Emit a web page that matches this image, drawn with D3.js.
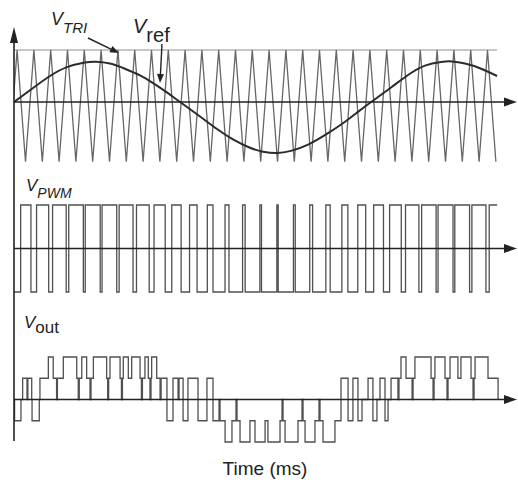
<!DOCTYPE html>
<html>
<head>
<meta charset="utf-8">
<script src="https://cdn.jsdelivr.net/npm/d3@7"></script>
<style>
  body { margin: 0; background: #fff; }
  svg { display: block; }
</style>
</head>
<body>
<svg id="chart" width="518" height="480"></svg>
<script>
// ---- data (time in ms, one carrier period = 1 ms) ----
// triangular carrier: times of its peaks and troughs, and its two levels
const carrierPeakT   = [1,2,3,4,5,6,7,8,9,10,11,12,13,14,15,16,17,18,19,20,21,22,23,24,25,26,27,28,29];
const carrierTroughT = [0.5,1.5,2.5,3.5,4.5,5.5,6.5,7.5,8.5,9.5,10.5,11.5,12.5,13.5,14.5,15.5,16.5,17.5,18.5,19.5,20.5,21.5,22.5,23.5,24.5,25.5,26.5,27.5,28.5,29.5];
const carrierTop = 1.0;
const carrierBottom = -1.15;

// reference (modulating) wave
const refT = [0.82,1.95,2.96,3.97,5.04,5.70,6.53,7.42,8.32,9.21,9.98,10.70,11.89,12.90,13.85,14.86,15.64,16.47,17.30,18.32,19.51,20.52,21.29,22.07,23.26,24.27,25.28,26.23,26.89,27.66,28.55,29.57];
const refV = [0,0.27,0.50,0.67,0.76,0.775,0.74,0.64,0.51,0.34,0.17,0,-0.28,-0.52,-0.72,-0.88,-0.955,-0.98,-0.94,-0.82,-0.60,-0.38,-0.19,0,0.28,0.52,0.70,0.77,0.78,0.74,0.65,0.50];

// output voltage: switching instants and the level held after each one
const voutT = [0.82,0.85,1.23,1.33,1.59,1.64,1.87,1.89,2.32,2.36,
  2.86,3.15,3.35,3.40,3.75,4.55,4.64,4.70,4.85,5.14,
  5.34,5.40,5.54,6.33,6.39,6.45,6.53,7.13,7.21,7.27,
  7.32,7.62,7.82,8.32,8.40,8.46,8.61,8.81,8.91,8.97,
  9.01,9.31,9.51,9.57,9.92,10.28,10.58,10.64,10.88,11.17,
  11.77,12.30,12.66,13.02,13.08,13.38,13.79,14.03,14.09,14.27,
  14.86,15.16,15.76,15.93,16.65,16.77,16.83,16.95,17.72,17.96,
  18.02,18.14,18.73,18.97,19.03,19.21,19.92,20.28,20.70,20.99,
  21.29,21.53,21.89,22.18,22.42,22.60,22.90,23.08,23.26,23.67,
  23.73,23.85,24.15,24.51,24.57,24.68,25.64,25.76,25.82,25.87,
  26.47,26.59,26.65,26.77,27.24,27.42,28.02,28.14,28.20,28.26,
  29.03,29.63];
const voutLevel = [0,-1,0,1,0,1,0,-1,0,1,
  2,1,0,1,2,1,0,1,2,1,
  0,1,2,1,0,1,2,1,0,1,
  2,1,2,1,0,1,2,1,0,1,
  2,1,0,1,-1,1,0,1,-1,1,
  -1,1,-1,0,-1,-2,-1,0,-1,-2,
  -1,-2,-1,-2,-1,0,-1,-2,-1,0,
  -1,-2,-1,0,-1,-2,-1,1,-1,1,
  -1,0,1,-1,0,1,-1,0,1,0,
  1,2,1,0,1,2,1,0,1,2,
  1,0,1,2,1,2,1,0,1,2,
  1,0];

const tStart = 0.82, tEnd = 29.57;

// ---- layout ----
const svg = d3.select("#chart");
const axisX = 14, arrowEnd = 517, lineEnd = 497;

const x = d3.scaleLinear().domain([0, 30]).range([0.3, 504.3]);
const yTri = d3.scaleLinear().domain([-1, 1]).range([154, 50]);
const yPwm = d3.scaleLinear().domain([-1, 1]).range([292, 205]);
const yOut = d3.scaleLinear().domain([-2, 2]).range([442, 357]);

svg.append("defs").append("clipPath").attr("id", "plot")
  .append("rect").attr("x", axisX).attr("y", 0).attr("width", 518 - axisX).attr("height", 480);

const ink = "#222";

// ---- top panel: carrier and reference ----
svg.append("line")
  .attr("x1", axisX).attr("x2", lineEnd)
  .attr("y1", yTri(carrierTop)).attr("y2", yTri(carrierTop))
  .attr("stroke", "#b4b4b4").attr("stroke-width", 1.3);

const carrier = carrierPeakT.map(t => [t, carrierTop])
  .concat(carrierTroughT.map(t => [t, carrierBottom]))
  .sort((a, b) => a[0] - b[0]);

const g = svg.append("g").attr("clip-path", "url(#plot)");

g.append("path")
  .attr("d", d3.line().x(d => x(d[0])).y(d => yTri(d[1]))(carrier))
  .attr("fill", "none").attr("stroke", "#666").attr("stroke-width", 1.3);

const refPts = refT.map((t, i) => [t, refV[i]]);
g.append("path")
  .attr("d", d3.line().x(d => x(d[0])).y(d => yTri(d[1])).curve(d3.curveNatural)(refPts))
  .attr("fill", "none").attr("stroke", "#2b2b2b").attr("stroke-width", 2);

// ---- PWM: high wherever the reference lies above the carrier ----
const refAt = d3.scaleLinear().domain(refT).range(refV);
const carAt = d3.scaleLinear().domain(carrier.map(d => d[0])).range(carrier.map(d => d[1]));
const pwm = [];
let state = refAt(tStart) > carAt(tStart) ? 1 : -1;
pwm.push([tStart, state]);
for (let t = tStart; t <= tEnd; t += 0.001) {
  const s = refAt(t) > carAt(t) ? 1 : -1;
  if (s !== state) { pwm.push([t, s]); state = s; }
}
pwm.push([tEnd, state]);

g.append("path")
  .attr("d", d3.line().x(d => x(d[0])).y(d => yPwm(d[1])).curve(d3.curveStepAfter)(pwm))
  .attr("fill", "none").attr("stroke", "#505050").attr("stroke-width", 1.3);

// ---- output voltage ----
const vout = voutT.map((t, i) => [t, voutLevel[i]]);
g.append("path")
  .attr("d", d3.line().x(d => x(d[0])).y(d => yOut(d[1])).curve(d3.curveStepAfter)(vout))
  .attr("fill", "none").attr("stroke", "#505050").attr("stroke-width", 1.3);

// ---- axes ----
svg.append("line").attr("x1", axisX).attr("x2", axisX).attr("y1", 40).attr("y2", 441)
  .attr("stroke", ink).attr("stroke-width", 1.6);
svg.append("path").attr("d", `M${axisX},27 L${axisX - 4},43 L${axisX + 4},43 Z`).attr("fill", ink);

[yTri(0), yPwm(0), yOut(0)].forEach(y0 => {
  svg.append("line").attr("x1", axisX).attr("x2", arrowEnd - 8).attr("y1", y0).attr("y2", y0)
    .attr("stroke", ink).attr("stroke-width", 1.6);
  svg.append("path").attr("d", `M${arrowEnd},${y0} L${arrowEnd - 13},${y0 - 4.5} L${arrowEnd - 13},${y0 + 4.5} Z`)
    .attr("fill", ink);
});

// ---- labels ----
const font = "'Liberation Sans', Arial, sans-serif";
function label(xp, yp, main, sub, size, subSize, subItalic, dy) {
  const t = svg.append("text").attr("x", xp).attr("y", yp)
    .attr("font-family", font).attr("font-size", size).attr("fill", ink);
  t.append("tspan").attr("font-style", "italic").text(main);
  t.append("tspan").attr("font-size", subSize).attr("dy", dy)
    .attr("font-style", subItalic ? "italic" : "normal").text(sub);
}
label(51, 25, "V", "TRI", 18, 15, true, 8);
label(133, 33, "V", "ref", 20, 20, false, 9);
label(26, 191, "V", "PWM", 17, 14, true, 7);
label(24, 328, "V", "out", 17, 17, false, 5);

// pointers from the labels to their curves
function pointer(x1, y1, x2, y2) {
  const a = Math.atan2(y2 - y1, x2 - x1), L = 9, W = 3.5;
  svg.append("line").attr("x1", x1).attr("y1", y1)
    .attr("x2", x2 - L * Math.cos(a)).attr("y2", y2 - L * Math.sin(a))
    .attr("stroke", ink).attr("stroke-width", 1.4);
  const bx = x2 - L * Math.cos(a), by = y2 - L * Math.sin(a);
  svg.append("path").attr("d",
    `M${x2},${y2} L${bx + W * Math.sin(a)},${by - W * Math.cos(a)} L${bx - W * Math.sin(a)},${by + W * Math.cos(a)} Z`)
    .attr("fill", ink);
}
pointer(88, 38, 119, 53);
pointer(162, 44, 160, 83);

svg.append("text").attr("x", 265).attr("y", 475).attr("text-anchor", "middle")
  .attr("font-family", font).attr("font-size", 19).attr("fill", ink).text("Time (ms)");
</script>
</body>
</html>
